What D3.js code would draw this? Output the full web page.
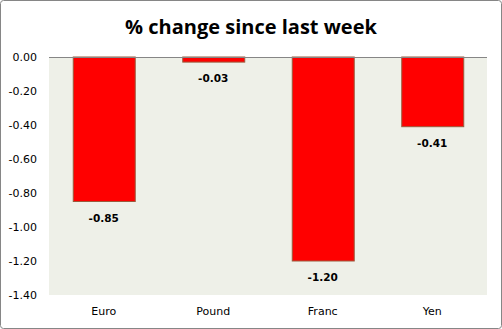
<!DOCTYPE html>
<html><head><meta charset="utf-8">
<script src="https://cdn.jsdelivr.net/npm/d3@7"></script>
<style>body{margin:0;background:#fff}svg{display:block}</style>
</head><body>
<script>
const categories = ["Euro", "Pound", "Franc", "Yen"];
const values = [-0.85, -0.03, -1.20, -0.41];
const yTicks = [0, -0.2, -0.4, -0.6, -0.8, -1.0, -1.2, -1.4];
const title = "% change since last week";

const W = 502, H = 329;
const m = {left: 49, right: 15, top: 57, bottom: 34};
const fmt = d3.formatLocale({decimal: ".", thousands: ",", grouping: [3], currency: ["", ""], minus: "-"}).format(".2f");
const svg = d3.select("body").append("svg").attr("width", W).attr("height", H);
svg.append("rect").attr("x", 0.5).attr("y", 0.5).attr("width", W - 1).attr("height", H - 1)
  .attr("rx", 3).attr("fill", "#fff").attr("stroke", "#868686");

const x = d3.scaleBand().domain(categories).range([m.left, W - m.right]).paddingInner(0.434).paddingOuter(0.217);
const y = d3.scaleLinear().domain([0, -1.4]).range([m.top, H - m.bottom]);

svg.append("rect").attr("x", m.left).attr("y", m.top).attr("width", W - m.right - m.left)
  .attr("height", H - m.bottom - m.top).attr("fill", "#eef0e8");

svg.append("text").attr("x", 251).attr("y", 34).attr("text-anchor", "middle")
  .attr("font-family", "Open Sans, sans-serif").attr("font-weight", "bold").attr("font-size", 20)
  .attr("fill", "#000").text(title);

const yAxis = svg.append("g").attr("transform", `translate(${m.left},0)`)
  .call(d3.axisLeft(y).tickValues(yTicks).tickFormat(fmt).tickSize(0).tickPadding(12));
yAxis.select(".domain").remove();
yAxis.selectAll("text").attr("font-family", "DejaVu Sans, sans-serif").attr("font-size", 11).attr("fill", "#000");

svg.selectAll(".bar").data(values).join("rect").attr("class", "bar")
  .attr("x", (d, i) => x(categories[i]) + 0.5).attr("width", x.bandwidth())
  .attr("y", d => y(0)).attr("height", d => y(d) - y(0))
  .attr("fill", "#ff0000").attr("stroke", "#9a5a3c").attr("stroke-width", 1);

svg.append("line").attr("x1", m.left).attr("x2", W - m.right).attr("y1", y(0) + 0.5).attr("y2", y(0) + 0.5)
  .attr("stroke", "#868686");

svg.selectAll(".lbl").data(values).join("text").attr("class", "lbl")
  .attr("x", (d, i) => x(categories[i]) + x.bandwidth() / 2)
  .attr("y", d => y(d) + 20).attr("text-anchor", "middle")
  .attr("font-family", "DejaVu Sans, sans-serif").attr("font-weight", "bold").attr("font-size", 10.5)
  .text(d => fmt(d));

const xAxis = svg.append("g").attr("transform", `translate(0,${H - m.bottom})`)
  .call(d3.axisBottom(x).tickSize(0).tickPadding(12));
xAxis.select(".domain").remove();
xAxis.selectAll("text").attr("font-family", "DejaVu Sans, sans-serif").attr("font-size", 11).attr("fill", "#000");
</script>
</body></html>
